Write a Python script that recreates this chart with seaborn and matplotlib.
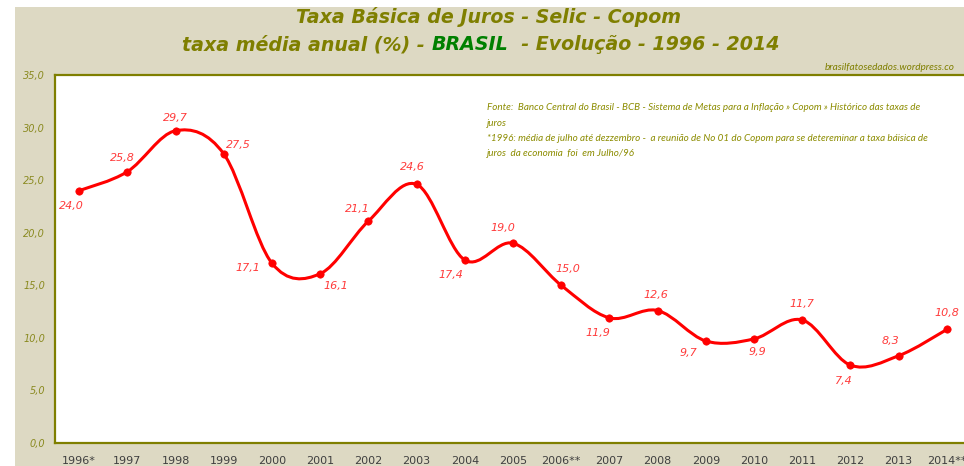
import numpy as np
import pandas as pd
import seaborn as sns
import matplotlib
matplotlib.use("Agg")
import matplotlib.pyplot as plt
from matplotlib.path import Path
from matplotlib.patches import PathPatch, Rectangle

# ---- data ----
years = ["1996*", "1997", "1998", "1999", "2000", "2001", "2002", "2003", "2004",
         "2005", "2006**", "2007", "2008", "2009", "2010", "2011", "2012", "2013", "2014**"]
selic = [24.0, 25.8, 29.7, 27.5, 17.1, 16.1, 21.1, 24.6, 17.4,
         19.0, 15.0, 11.9, 12.6, 9.7, 9.9, 11.7, 7.4, 8.3, 10.8]
y_ticks = [0, 5, 10, 15, 20, 25, 30, 35]

# label offsets in pixels (style)
label_offsets = [(-8, -15), (-5, 14), (0, 13), (15, 9), (-24, -5), (16, -12), (-11, 12),
                 (-4, 17), (-14, -15), (-10, 15), (7, 16), (-12, -15), (-2, 16), (-17, -12),
                 (3, -13), (0, 16), (-7, -16), (-8, 15), (0, 16)]

OLIVE = "#7f7f00"
BEIGE = "#ddd9c3"
RED = "#ff0000"
LABEL_RED = "#ff3b3b"

sns.set_theme(style="white")
plt.rcParams["font.family"] = ["DejaVu Sans"]

fig = plt.figure(figsize=(9.64, 4.66), dpi=100)
fig.patch.set_facecolor("white")
fig.patches.append(Rectangle((15 / 964, 0), 1, (466 - 7) / 466, transform=fig.transFigure,
                             facecolor=BEIGE, edgecolor="none", zorder=-10))

ax = fig.add_axes([55 / 964, 23 / 466, 916 / 964, 368 / 466])
ax.set_facecolor("white")

df = pd.DataFrame({"x": np.arange(len(years)), "y": selic})

# smooth curve (Excel-like Catmull-Rom Bezier) built from the data points
pts = df[["x", "y"]].to_numpy(dtype=float)
n = len(pts)
verts = [tuple(pts[0])]
codes = [Path.MOVETO]
for i in range(n - 1):
    p0 = pts[i - 1] if i > 0 else pts[i]
    p1 = pts[i]
    p2 = pts[i + 1]
    p3 = pts[i + 2] if i + 2 < n else pts[i + 1]
    c1 = p1 + (p2 - p0) / 6.0
    c2 = p2 - (p3 - p1) / 6.0
    verts += [tuple(c1), tuple(c2), tuple(p2)]
    codes += [Path.CURVE4] * 3
ax.add_patch(PathPatch(Path(verts, codes), facecolor="none", edgecolor=RED, lw=2.2,
                       zorder=3, capstyle="round", joinstyle="round"))

sns.scatterplot(data=df, x="x", y="y", ax=ax, color=RED, s=28, edgecolor=RED,
                linewidth=0.5, zorder=4, legend=False)

for (xi, yi), (dx, dy) in zip(pts, label_offsets):
    ax.annotate(f"{yi:.1f}".replace(".", ","), (xi, yi), xytext=(dx, dy),
                textcoords="offset pixels", ha="center", va="center",
                fontsize=8, style="italic", color=LABEL_RED, zorder=5)

ax.set_xlim(-0.5, len(years) - 0.5)
ax.set_ylim(0, 35)
ax.set_xlabel("")
ax.set_ylabel("")

ax.set_yticks(y_ticks)
ax.set_yticklabels([f"{v:.1f}".replace(".", ",") for v in y_ticks], fontsize=7,
                   style="italic", color="#8a8a20")
ax.set_xticks(np.arange(len(years)))
ax.set_xticklabels(years, fontsize=8, color="#3f3f3f")
ax.set_xticks(np.arange(-0.5, len(years), 1.0), minor=True)
ax.tick_params(axis="x", which="major", length=0, pad=9)
ax.tick_params(axis="x", which="minor", length=4, width=1, color=OLIVE, direction="out")
ax.tick_params(axis="y", which="major", length=4, width=1, color=OLIVE, direction="out", pad=3)

for side in ["left", "bottom", "top"]:
    ax.spines[side].set_visible(True)
    ax.spines[side].set_color(OLIVE)
    ax.spines[side].set_linewidth(1.6)
ax.spines["right"].set_visible(False)
ax.grid(False)

# titles
TS = 13.7
fig.text(489 / 964, 1 - 17 / 466, "Taxa Básica de Juros - Selic - Copom", ha="center",
         va="center", fontsize=TS, weight="bold", style="italic", color=OLIVE)
t1 = fig.text(182 / 964, 1 - 45 / 466, "taxa média anual (%) - ", ha="left", va="center",
              fontsize=TS, weight="bold", style="italic", color=OLIVE)
fig.canvas.draw()
r = fig.canvas.get_renderer()
bb = t1.get_window_extent(r)
t2 = fig.text(bb.x1 / 964, 1 - 45 / 466, "BRASIL", ha="left", va="center",
              fontsize=TS, weight="bold", style="italic", color="#008000")
bb2 = t2.get_window_extent(r)
fig.text(bb2.x1 / 964, 1 - 45 / 466, "  - Evolução - 1996 - 2014", ha="left", va="center",
         fontsize=TS, weight="bold", style="italic", color=OLIVE)

fig.text(955 / 964, 1 - 67 / 466, "brasilfatosedados.wordpress.co", ha="right", va="center",
         fontsize=7.2, style="italic", color=OLIVE, family=["Lato", "DejaVu Sans"])

note_kw = dict(ha="left", va="center", fontsize=7.1, style="italic", color="#8c8c00",
               family=["Lato", "DejaVu Sans"])
fig.text(487 / 964, 1 - 108 / 466,
         "Fonte:  Banco Central do Brasil - BCB - Sistema de Metas para a Inflação » Copom » Histórico das taxas de",
         **note_kw)
fig.text(487 / 964, 1 - 123 / 466, "juros", **note_kw)
fig.text(487 / 964, 1 - 139 / 466,
         "*1996: média de julho até dezzembro -  a reunião de No 01 do Copom para se detereminar a taxa báisica de",
         **note_kw)
fig.text(487 / 964, 1 - 153 / 466, "juros  da economia  foi  em Julho/96", **note_kw)

fig.savefig("out.png", dpi=100, facecolor=fig.get_facecolor())
